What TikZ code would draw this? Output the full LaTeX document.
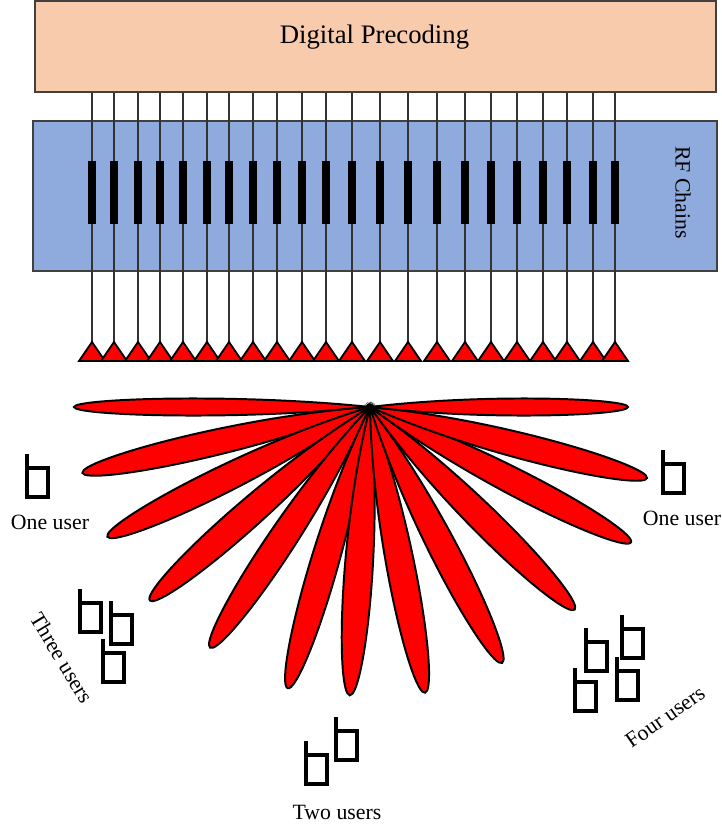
\documentclass[tikz,border=0pt]{standalone}
\usepackage{fontspec}
\setmainfont{Liberation Serif}
\usepackage{tikz}
\usetikzlibrary{fit}

\definecolor{peach}{HTML}{F8CBAD}
\definecolor{rfblue}{HTML}{8FAADC}

\tikzset{
  precbox/.style={draw=black!75, line width=1pt, fill=peach, inner sep=0pt},
  rfbox/.style={draw=black!75, line width=1pt, fill=rfblue, inner sep=0pt},
  feed/.style={draw=black!80, line width=0.9pt},
  rfbar/.style={fill=black, inner sep=0pt, minimum width=0.2cm, minimum height=1.575cm},
  antenna/.style={draw=black, fill=red, line width=1.3pt, line join=miter},
  lobe/.style={draw=black, fill=red, line width=1.4pt},
  handset/.style={draw=black, line width=2.6pt, line join=miter},
  lbl/.style={font=\fontsize{15.5}{18}\selectfont, inner sep=0pt},
}

\begin{document}
\begin{tikzpicture}[x=0.025cm, y=-0.025cm]
  \useasboundingbox (0,0) rectangle (722,830);

  % precoder and RF chain blocks
  \node[precbox, fit={(35,1) (716,92)}] (prec) {};
  \node[rfbox, fit={(33,121) (717,271)}] (rf) {};
  \draw (374.5,43) node[anchor=base, font=\fontsize{19}{22}\selectfont] (dp) {Digital Precoding};
  \draw (683,192.5) node[lbl, rotate=-90] (rfl) {RF Chains};

  % one feed per antenna, with its RF chain on it
  \foreach \x [count=\i] in {92,114,138,160,183,207,229,253,277,302,326,352,380,408,437,465,491,517,543,567,593,615}{
    \coordinate (a\i) at (\x,342);
    \draw[feed] (prec.south -| a\i) -- (a\i);
    \node[rfbar] (b\i) at (\x,192.5) {};
  }
  \foreach \i in {1,...,22}
    \draw[antenna] (a\i) -- ++(13,19) -- ++(-26,0) -- cycle;

  % beams: angle / length / width
  \foreach \a/\l/\w in {180/296/14, 192.9/295/21, 206.3/293/22, 221.3/293/23, 236.4/289/23,
                        253.7/293/23, 266/289/23, 280.9/291/23, 297.3/288/23, 315.3/288/23,
                        332.6/294/22, 345.6/286/21, 0/258/14}
    \draw[lobe, shift={(370,407)}, rotate=\a] (0,0) .. controls (0.45*\l,\w) and (\l,0.6*\w) .. (\l,0)
                                               .. controls (\l,-0.6*\w) and (0.45*\l,-\w) .. cycle;

  % users
  \foreach \x/\y in {27/454, 663/450, 80/589, 111/601, 103/639, 586/628, 622/615, 575/668, 617/657, 306/741, 336/717}
    \draw[handset] (\x,\y) -- ++(0,14) -- ++(0,29) -- ++(21,0) -- ++(0,-29) -- ++(-21,0);

  \draw (50,529) node[lbl, anchor=base] (one1) {One user};
  \draw (682,525) node[lbl, anchor=base] (one2) {One user};
  \draw (337,819) node[lbl, anchor=base] (two) {Two users};
  \draw (62,658) node[lbl, rotate=-59] (three) {Three users};
  \draw (665,717) node[lbl, rotate=35] (four) {Four users};
\end{tikzpicture}
\end{document}
